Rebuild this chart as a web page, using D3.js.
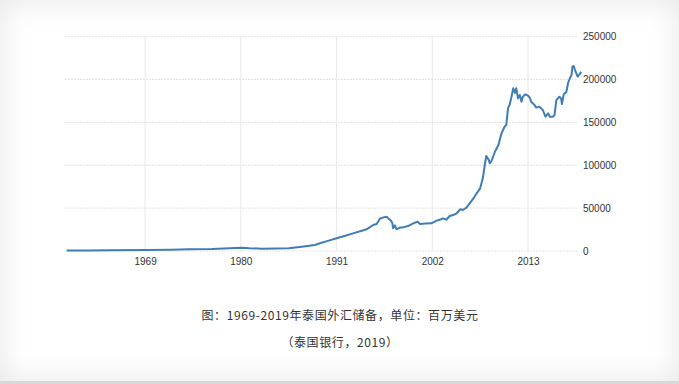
<!DOCTYPE html>
<html>
<head>
<meta charset="utf-8">
<script src="https://cdn.jsdelivr.net/npm/d3@7"></script>
<style>
  html, body { margin: 0; padding: 0; background: #fff; }
  #card {
    position: relative;
    width: 679px; height: 384px;
    box-sizing: border-box;
    background: #fff;
    box-shadow: inset 0 0 30px rgba(0,0,0,0.1);
    border-bottom: 3px solid #d8d8d8;
  }
  svg { position: absolute; left: 0; top: 0; }
</style>
</head>
<body>
<div id="card"><svg id="svg"></svg></div>
<script>
// Thailand FX reserves, USD million
const years = [
  1960.0, 1962.5, 1965, 1969, 1972, 1974, 1976.7, 1978, 1980.1, 1981, 1982.4, 1984, 1985.5,
  1987, 1988.5, 1989.1, 1990, 1991, 1992, 1992.9, 1994, 1994.45, 1995.2, 1995.6, 1996,
  1996.5, 1996.75, 1997.2, 1997.4, 1997.5, 1997.7, 1997.9, 1998.2, 1998.65, 1999.3, 2000,
  2000.3, 2000.6, 2001.2, 2001.9, 2002.5, 2003.0, 2003.25, 2003.6, 2004, 2004.4, 2004.8,
  2005.2, 2005.5, 2005.9, 2006.3, 2006.7, 2007.1, 2007.5, 2007.8, 2008.0, 2008.2, 2008.5,
  2008.6, 2008.8, 2009.2, 2009.6, 2009.95, 2010.3, 2010.5, 2010.7, 2010.9, 2011.1, 2011.3,
  2011.5, 2011.65, 2011.85, 2012.05, 2012.25, 2012.4, 2012.7, 2013.0, 2013.2, 2013.35,
  2013.75, 2013.95, 2014.3, 2014.7, 2015.0, 2015.3, 2015.5, 2015.85, 2016.05, 2016.25,
  2016.6, 2016.8, 2016.9, 2017.1, 2017.4, 2017.6, 2017.8, 2018.0, 2018.1, 2018.25, 2018.4,
  2018.55, 2018.7, 2018.85, 2019.0, 2019.1
];
const reserves = [
  500, 600, 800, 1100, 1400, 2000, 2300, 2800, 3900, 3300, 2700, 2800, 3100,
  5000, 7000, 9000, 11800, 14800, 17800, 20600, 24000, 25300, 30300, 31500, 38000,
  39500, 40000, 36000, 33000, 26500, 30000, 25300, 27000, 27600, 29500, 33000,
  34200, 31500, 32000, 32300, 35400, 37000, 38100, 36500, 40800, 42000, 44000,
  48600, 47800, 50500, 55600, 61000, 67300, 73100, 84800, 98300, 110800, 106000,
  102300, 105000, 115800, 123700, 137300, 145000, 147000, 166500, 171000, 180000, 189800,
  184500, 189800, 178000, 182000, 174000, 180000, 182800, 181200, 178800, 174200,
  170300, 167200, 168400, 164500, 156700, 160600, 156700, 156700, 158700, 176000,
  180000, 177700, 171500, 183000, 185500, 196000, 201500, 205300, 215000, 215800, 211100,
  207300, 203400, 205300, 207300, 209200
];
const xTicks = [1969, 1980, 1991, 2002, 2013];
const yTicks = [0, 50000, 100000, 150000, 200000, 250000];
const caption = "图：1969-2019年泰国外汇储备，单位：百万美元";
const source = "（泰国银行，2019）";

const width = 679, height = 384;
const data = years.map((y, i) => ({ year: y, value: reserves[i] }));

const svg = d3.select("#svg")
  .attr("width", width)
  .attr("height", height)
  .attr("font-family", "'Segoe UI', 'DejaVu Sans', sans-serif");

const xScale = d3.scaleLinear([1959.8, 2019.2], [65, 582]);
const yScale = d3.scaleLinear([0, 250000], [251, 36.7]);

// grid
svg.append("g")
  .selectAll("line")
  .data(yTicks)
  .join("line")
  .attr("x1", 65).attr("x2", 578)
  .attr("y1", d => yScale(d)).attr("y2", d => yScale(d))
  .attr("stroke", "#e2e2e2")
  .attr("stroke-width", 1)
  .attr("stroke-dasharray", "2,1");

svg.append("g")
  .selectAll("line")
  .data(xTicks)
  .join("line")
  .attr("x1", d => xScale(d)).attr("x2", d => xScale(d))
  .attr("y1", 36.7).attr("y2", 251)
  .attr("stroke", "#e8e8e8")
  .attr("stroke-width", 1);

// axes
const xAxis = svg.append("g")
  .attr("transform", "translate(0,251)")
  .call(d3.axisBottom(xScale).tickValues(xTicks).tickFormat(d3.format("d")).tickSize(0).tickPadding(7));
xAxis.select(".domain").remove();
xAxis.selectAll("text").attr("font-size", 10).attr("fill", "#333");

const yAxis = svg.append("g")
  .attr("transform", "translate(580,0)")
  .call(d3.axisRight(yScale).tickValues(yTicks).tickFormat(d3.format("d")).tickSize(0).tickPadding(3));
yAxis.select(".domain").remove();
yAxis.selectAll("text").attr("font-size", 10).attr("fill", "#333");

// line
svg.append("path")
  .datum(data)
  .attr("fill", "none")
  .attr("stroke", "#3f7db8")
  .attr("stroke-width", 2)
  .attr("stroke-linejoin", "round")
  .attr("d", d3.line()
    .x(d => xScale(d.year))
    .y(d => yScale(d.value)));

// captions
svg.append("text")
  .attr("x", 340).attr("y", 320)
  .attr("text-anchor", "middle")
  .attr("font-family", "'Noto Sans CJK SC', sans-serif")
  .attr("font-size", 12)
  .attr("letter-spacing", 0.6)
  .attr("fill", "#333")
  .text(caption);

svg.append("text")
  .attr("x", 340).attr("y", 347)
  .attr("text-anchor", "middle")
  .attr("font-family", "'Noto Sans CJK SC', sans-serif")
  .attr("font-size", 12)
  .attr("letter-spacing", 0.6)
  .attr("fill", "#333")
  .text(source);
</script>
</body>
</html>
